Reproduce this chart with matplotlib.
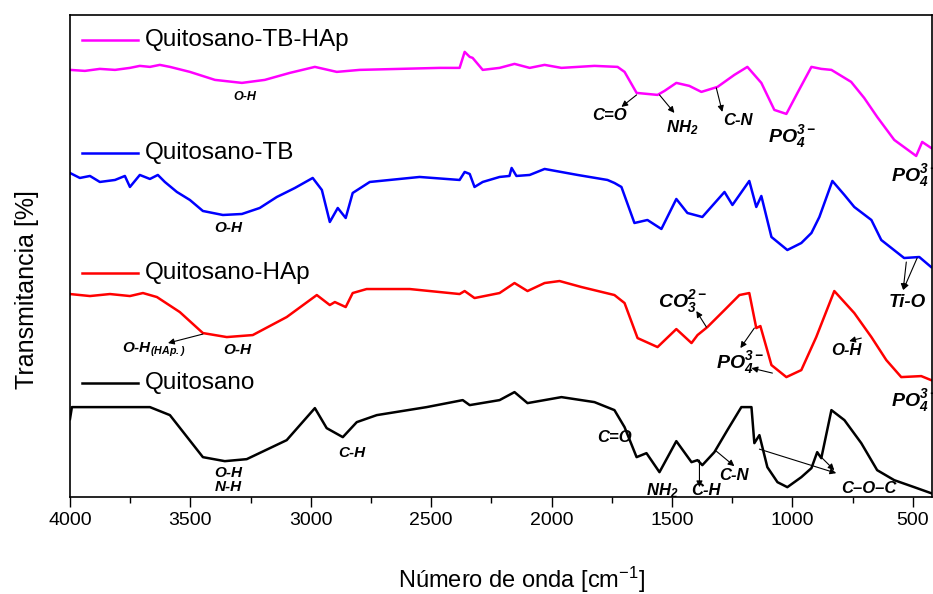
import matplotlib
matplotlib.use('Agg')
import matplotlib.pyplot as plt
from matplotlib.ticker import MultipleLocator

plt.rcParams['font.family'] = ['Liberation Sans', 'DejaVu Sans']
plt.rcParams['mathtext.fontset'] = 'custom'
plt.rcParams['mathtext.rm'] = 'Liberation Sans'
plt.rcParams['mathtext.it'] = 'Liberation Sans:italic'
plt.rcParams['mathtext.bf'] = 'Liberation Sans:italic:bold'

# Espectros FTIR, transmitancia en u.a. con desplazamiento
wn_tb_hap = [4000, 3938, 3876, 3813, 3751, 3710, 3668, 3627, 3585, 3502, 3398, 3286, 3191, 3087,
             2983, 2892, 2797, 2631, 2465, 2382, 2361, 2340, 2328, 2286, 2216, 2154, 2091, 2029,
             1959, 1822, 1726, 1697, 1647, 1560, 1531, 1482, 1428, 1378, 1311, 1241, 1187, 1129,
             1075, 1025, 979, 921, 880, 838, 756, 702, 648, 577, 486, 461, 424]
t_tb_hap = [427, 426, 428, 427, 429, 431, 430, 432, 430, 425, 417, 414, 417, 424,
            430, 425, 427, 428, 429, 429, 445, 440, 439, 427, 429, 433, 429, 432,
            429, 431, 430, 425, 404, 402, 406, 414, 411, 405, 410, 422, 430, 414,
            387, 383, 404, 430, 428, 427, 415, 399, 380, 357, 341, 355, 349]

wn_tb = [4000, 3959, 3917, 3876, 3813, 3772, 3751, 3710, 3668, 3635, 3606, 3556, 3502, 3448,
         3365, 3286, 3212, 3141, 3066, 2992, 2954, 2921, 2888, 2855, 2826, 2755, 2548, 2382,
         2361, 2340, 2320, 2286, 2216, 2175, 2166, 2146, 2091, 2029, 1892, 1768, 1739, 1710,
         1656, 1602, 1544, 1482, 1436, 1374, 1282, 1249, 1179, 1150, 1129, 1087, 1021, 963,
         921, 888, 834, 784, 743, 672, 631, 536, 473, 424]
t_tb = [324, 319, 321, 315, 317, 321, 310, 322, 318, 322, 315, 305, 297, 286,
        282, 283, 289, 300, 309, 319, 307, 275, 289, 279, 304, 315, 320, 317,
        325, 323, 310, 315, 320, 321, 329, 321, 322, 328, 322, 317, 314, 310,
        274, 277, 268, 298, 284, 280, 305, 292, 316, 290, 301, 260, 247, 254,
        264, 280, 316, 302, 290, 277, 257, 239, 240, 230]

wn_hap = [4000, 3917, 3834, 3751, 3697, 3639, 3544, 3448, 3349, 3241, 3100, 2975, 2921, 2900,
          2855, 2826, 2768, 2589, 2382, 2361, 2320, 2216, 2154, 2100, 2029, 1967, 1876, 1739,
          1697, 1643, 1560, 1482, 1419, 1394, 1353, 1282, 1220, 1179, 1150, 1133, 1087, 1025,
          963, 901, 826, 743, 672, 610, 548, 465, 424]
t_hap = [203, 201, 203, 201, 204, 200, 185, 164, 160, 162, 180, 202, 192, 195,
         190, 204, 208, 208, 203, 206, 199, 204, 214, 206, 214, 216, 210, 202,
         194, 159, 150, 168, 154, 162, 170, 187, 202, 204, 169, 171, 132, 120,
         127, 160, 206, 184, 160, 137, 120, 121, 117]

wn_quit = [4000, 3992, 3668, 3585, 3448, 3357, 3266, 3100, 2983, 2934, 2867, 2809, 2726, 2519,
           2369, 2340, 2216, 2154, 2100, 1959, 1822, 1739, 1697, 1647, 1606, 1552, 1482, 1419,
           1394, 1374, 1324, 1270, 1212, 1170, 1158, 1137, 1104, 1062, 1021, 963, 921, 897,
           880, 838, 784, 714, 648, 577, 494, 424]
t_quit = [78, 90, 90, 82, 40, 36, 38, 57, 89, 69, 60, 75, 82, 90,
          97, 92, 97, 105, 94, 100, 95, 87, 70, 40, 44, 25, 56, 35,
          37, 32, 45, 67, 90, 90, 54, 62, 30, 15, 10, 20, 29, 45,
          39, 87, 77, 54, 27, 17, 10, 4]

nombres = ['Quitosano-TB-HAp', 'Quitosano-TB', 'Quitosano-HAp', 'Quitosano']
colores = ['#FF00FF', '#0000FF', '#FF0000', '#000000']
series = [(wn_tb_hap, t_tb_hap), (wn_tb, t_tb), (wn_hap, t_hap), (wn_quit, t_quit)]
y_etiquetas = [0.948, 0.714, 0.465, 0.237]

fig = plt.figure(figsize=(9.33, 5.94), dpi=100)
ax = fig.add_axes([0.075, 0.163, 0.924, 0.812])

for (wn, t), c in zip(series, colores):
    ax.plot(wn, t, color=c, lw=1.8)

# Etiquetas tipo leyenda encima de cada espectro
for nombre, c, yy in zip(nombres, colores, y_etiquetas):
    ax.plot([0.014, 0.079], [yy, yy], color=c, lw=1.8, transform=ax.transAxes)
    ax.text(0.087, yy, nombre, transform=ax.transAxes, fontsize=17.5, va='center', ha='left')

ax.set_xlim(4000, 420)
ax.set_ylim(0, 482)
ax.xaxis.set_major_locator(MultipleLocator(500))
ax.xaxis.set_minor_locator(MultipleLocator(250))
ax.tick_params(axis='x', which='major', direction='out', length=7, width=1, labelsize=14)
ax.tick_params(axis='x', which='minor', direction='out', length=4, width=1)
ax.set_yticks([])
for s in ax.spines.values():
    s.set_linewidth(1.2)

ax.set_xlabel('Número de onda [cm$^{-1}$]', fontsize=17)
ax.xaxis.set_label_coords(0.524, -0.14)
ax.set_ylabel('Transmitancia [%]', fontsize=18)
ax.yaxis.set_label_coords(-0.036, 0.43)

fb = dict(fontweight='bold', fontstyle='italic', ha='center', va='center')
flecha = dict(arrowstyle='-|>', color='k', lw=0.8, mutation_scale=9, shrinkA=0, shrinkB=0)
po4 = r'PO$_{\mathbf{4}}^{\mathbf{3-}}$'

# Quitosano-TB-HAp
ax.text(3274, 400, 'O-H', fontsize=9, **fb)
ax.annotate('', xy=(1710, 390), xytext=(1647, 402), arrowprops=flecha)
ax.text(1760, 381, 'C=O', fontsize=12, **fb)
ax.annotate('', xy=(1490, 384), xytext=(1552, 402), arrowprops=flecha)
ax.text(1457, 369, r'NH$_{\mathbf{2}}$', fontsize=12, **fb)
ax.annotate('', xy=(1291, 385), xytext=(1316, 409), arrowprops=flecha)
ax.text(1228, 376, 'C-N', fontsize=12, **fb)
ax.text(1004, 360, po4, fontsize=14, **fb)
ax.text(490, 321, po4, fontsize=14, clip_on=False, **fb)

# Quitosano-TB
ax.text(3344, 269, 'O-H', fontsize=11, **fb)
ax.annotate('', xy=(540, 207), xytext=(527, 235), arrowprops=flecha)
ax.annotate('', xy=(540, 207), xytext=(482, 239), arrowprops=flecha)
ax.text(523, 195, 'Ti-O', fontsize=13.5, **fb)

# Quitosano-HAp
ax.annotate('', xy=(3593, 154), xytext=(3448, 163), arrowprops=flecha)
ax.text(3650, 147, r'O-H$_{\mathbf{(HAp.)}}$', fontsize=11, **fb)
ax.text(3307, 147, 'O-H', fontsize=11, **fb)
ax.annotate('', xy=(1399, 186), xytext=(1357, 170), arrowprops=flecha)
ax.text(1457, 195, r'CO$_{\mathbf{3}}^{\mathbf{2-}}$', fontsize=14, **fb)
ax.annotate('', xy=(1216, 149), xytext=(1158, 169), arrowprops=flecha)
ax.annotate('', xy=(1170, 129), xytext=(1083, 124), arrowprops=flecha)
ax.text(1220, 135, po4, fontsize=14, **fb)
ax.annotate('', xy=(764, 156), xytext=(714, 159), arrowprops=flecha)
ax.text(776, 147, 'O-H', fontsize=12, **fb)
ax.text(490, 97, po4, fontsize=14, clip_on=False, **fb)

# Quitosano
ax.text(3344, 17, 'O-H\nN-H', fontsize=11, linespacing=1.0, **fb)
ax.text(2830, 44, 'C-H', fontsize=11, **fb)
ax.text(1739, 60, 'C=O', fontsize=12, **fb)
ax.text(1540, 7, r'NH$_{\mathbf{2}}$', fontsize=12, **fb)
ax.annotate('', xy=(1386, 10), xytext=(1386, 37), arrowprops=flecha)
ax.text(1357, 7, 'C-H', fontsize=12, **fb)
ax.annotate('', xy=(1241, 31), xytext=(1316, 46), arrowprops=flecha)
ax.text(1241, 22, 'C-N', fontsize=12, **fb)
ax.annotate('', xy=(818, 24), xytext=(1137, 48), arrowprops=flecha)
ax.annotate('', xy=(826, 27), xytext=(897, 44), arrowprops=flecha)
ax.text(681, 9, 'C–O–C', fontsize=12, **fb)

fig.savefig('out.png', dpi=100)
